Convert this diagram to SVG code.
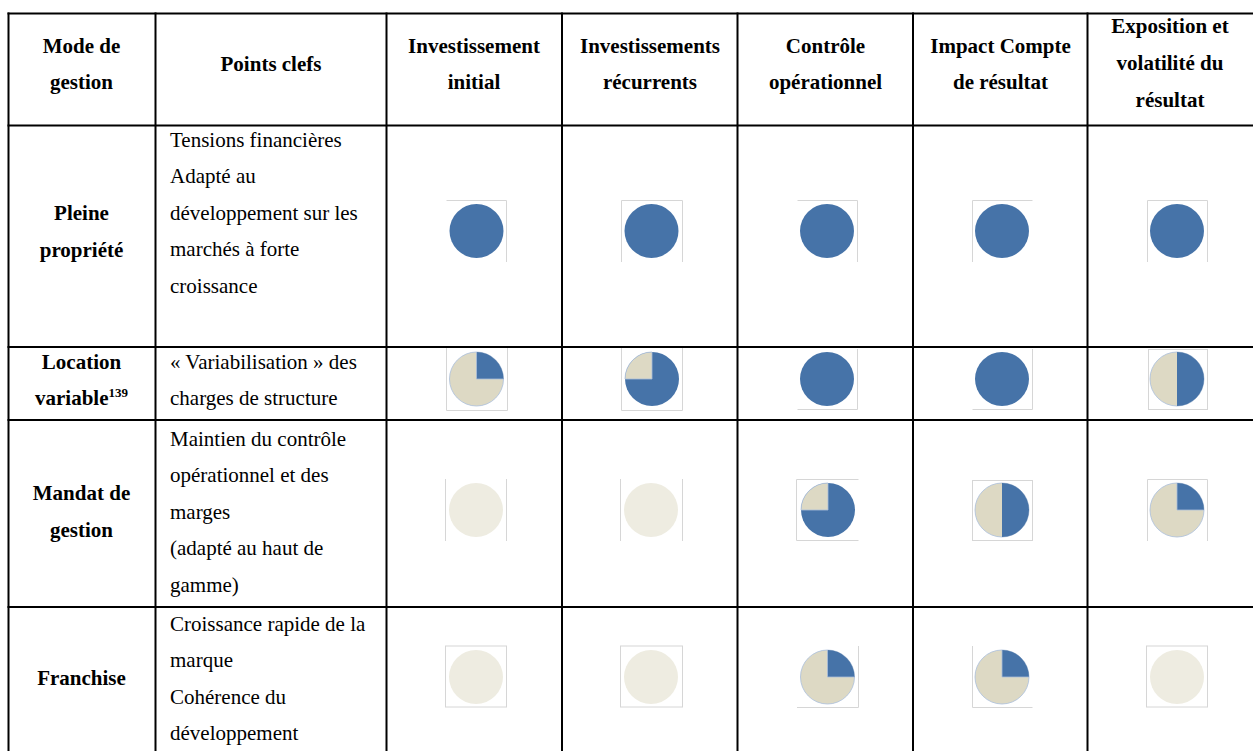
<svg xmlns="http://www.w3.org/2000/svg" width="1253" height="751" viewBox="0 0 1253 751">
<style>
text{font-size:21px;fill:#000}
.h{font-weight:bold;text-anchor:middle}
.b{text-anchor:start}
.grid line{stroke:#000;stroke-width:2}
.fr{stroke:#D6D6D6;stroke-width:1;fill:none}
.blue{fill:#4673A8}
.tan{fill:#DDD9C4;stroke:#A9BEDA;stroke-width:0.8}
.light{fill:#EEECE1}
.sep{stroke:#A9BEDA;stroke-width:0.8;fill:none}
</style>
<defs>
<g id="full"><circle r="27" class="blue"/></g>
<g id="empty"><circle r="27" class="light"/></g>
<g id="q1"><circle r="27" class="tan"/><path d="M0,0 L0,-27 A27,27 0 0 1 27,0 Z" class="blue"/><path d="M0,-27 L0,0 L27,0" class="sep"/></g>
<g id="q3"><circle r="27" class="blue"/><path d="M0,0 L-27,0 A27,27 0 0 1 0,-27 Z" class="tan"/></g>
<g id="half"><circle r="27" class="tan"/><path d="M0,-27 A27,27 0 0 1 0,27 Z" class="blue"/></g>
</defs>
<rect width="1253" height="751" fill="#fff"/>

<g id="grid" class="grid">
<line x1="7.5" y1="13.5" x2="1253" y2="13.5"/>
<line x1="7.5" y1="125.5" x2="1253" y2="125.5"/>
<line x1="7.5" y1="347" x2="1253" y2="347"/>
<line x1="7.5" y1="420" x2="1253" y2="420"/>
<line x1="7.5" y1="607" x2="1253" y2="607"/>
<line x1="8.5" y1="12.5" x2="8.5" y2="751"/>
<line x1="155.5" y1="12.5" x2="155.5" y2="751"/>
<line x1="386.5" y1="12.5" x2="386.5" y2="751"/>
<line x1="562" y1="12.5" x2="562" y2="751"/>
<line x1="737.5" y1="12.5" x2="737.5" y2="751"/>
<line x1="913" y1="12.5" x2="913" y2="751"/>
<line x1="1087.5" y1="12.5" x2="1087.5" y2="751"/>
</g>

<g font-family="'Liberation Serif', 'Times New Roman', 'DejaVu Serif', serif">
<g id="header">
<text class="h" x="81.5" y="53">Mode de</text>
<text class="h" x="81.5" y="89">gestion</text>
<text class="h" x="271" y="71">Points clefs</text>
<text class="h" x="474" y="53">Investissement</text>
<text class="h" x="474" y="89">initial</text>
<text class="h" x="650" y="53">Investissements</text>
<text class="h" x="650" y="89">récurrents</text>
<text class="h" x="825.5" y="53">Contrôle</text>
<text class="h" x="825.5" y="89">opérationnel</text>
<text class="h" x="1000.5" y="53">Impact Compte</text>
<text class="h" x="1000.5" y="89">de résultat</text>
<text class="h" x="1170" y="33">Exposition et</text>
<text class="h" x="1170" y="70">volatilité du</text>
<text class="h" x="1170" y="107">résultat</text>
</g>

<g id="row-pleine-propriete">
<text class="h" x="81.5" y="220">Pleine</text>
<text class="h" x="81.5" y="256.5">propriété</text>
<text class="b" x="170" y="146.5">Tensions financières</text>
<text class="b" x="170" y="183">Adapté au</text>
<text class="b" x="170" y="219.5">développement sur les</text>
<text class="b" x="170" y="256">marchés à forte</text>
<text class="b" x="170" y="292.5">croissance</text>
<path class="fr" d="M446.5,200.5 H506.5 V262"/>
<path class="fr" d="M621.5,262 V200.5 H682.5 V262"/>
<path class="fr" d="M797.5,200.5 H857.5 V262"/>
<path class="fr" d="M972.5,262 V200.5 H1032.5"/>
<path class="fr" d="M1147.5,262 V200.5 H1207.5 V262"/>
<use href="#full" x="476.5" y="231"/>
<use href="#full" x="651.5" y="231"/>
<use href="#full" x="827" y="231"/>
<use href="#full" x="1002" y="231"/>
<use href="#full" x="1177" y="231"/>
</g>

<g id="row-location-variable">
<text class="h" x="81.5" y="368.5">Location</text>
<text class="h" x="81.5" y="405">variable<tspan font-size="13" dy="-8">139</tspan></text>
<text class="b" x="170" y="368.5">« Variabilisation » des</text>
<text class="b" x="170" y="405">charges de structure</text>
<path class="fr" d="M446.5,348 V410.5 H507.5 V348"/>
<path class="fr" d="M621.5,348 V410.5 H682.5 V348"/>
<path class="fr" d="M797.5,409.5 H857.5 V349"/>
<path class="fr" d="M972.5,409.5 H1032.5 V349"/>
<rect class="fr" x="1148.5" y="349.5" width="59" height="60"/>
<use href="#q1" x="476.5" y="379"/>
<use href="#q3" x="652" y="379"/>
<use href="#full" x="827" y="379"/>
<use href="#full" x="1002" y="379"/>
<use href="#half" x="1177" y="379"/>
</g>

<g id="row-mandat-de-gestion">
<text class="h" x="81.5" y="500">Mandat de</text>
<text class="h" x="81.5" y="536.5">gestion</text>
<text class="b" x="170" y="445.5">Maintien du contrôle</text>
<text class="b" x="170" y="482">opérationnel et des</text>
<text class="b" x="170" y="518.5">marges</text>
<text class="b" x="170" y="555">(adapté au haut de</text>
<text class="b" x="170" y="591.5">gamme)</text>
<path class="fr" d="M445.5,479 V541 M506.5,479 V541"/>
<path class="fr" d="M620.5,479 V541 M682.5,479 V541"/>
<path class="fr" d="M858.5,479.5 H796.5 V540.5 H858.5"/>
<rect class="fr" x="972.5" y="480.5" width="60" height="60"/>
<path class="fr" d="M1147.5,541 V479.5 H1207.5 V541"/>
<use href="#empty" x="476" y="510"/>
<use href="#empty" x="651" y="510"/>
<use href="#q3" x="828" y="510"/>
<use href="#half" x="1002" y="510"/>
<use href="#q1" x="1177" y="510"/>
</g>

<g id="row-franchise">
<text class="h" x="81.5" y="684.5">Franchise</text>
<text class="b" x="170" y="630.5">Croissance rapide de la</text>
<text class="b" x="170" y="667">marque</text>
<text class="b" x="170" y="703.5">Cohérence du</text>
<text class="b" x="170" y="740">développement</text>
<rect class="fr" x="445.5" y="646" width="61" height="61"/>
<rect class="fr" x="620.5" y="646" width="62" height="61"/>
<path class="fr" d="M797,707.5 H858.5 V646"/>
<path class="fr" d="M972.5,646 V707.5 H1032.5"/>
<rect class="fr" x="1146.5" y="646" width="61" height="61"/>
<use href="#empty" x="476" y="677"/>
<use href="#empty" x="651" y="677"/>
<use href="#q1" x="827.5" y="677"/>
<use href="#q1" x="1002" y="677"/>
<use href="#empty" x="1177" y="677"/>
</g>
</g>
</svg>
